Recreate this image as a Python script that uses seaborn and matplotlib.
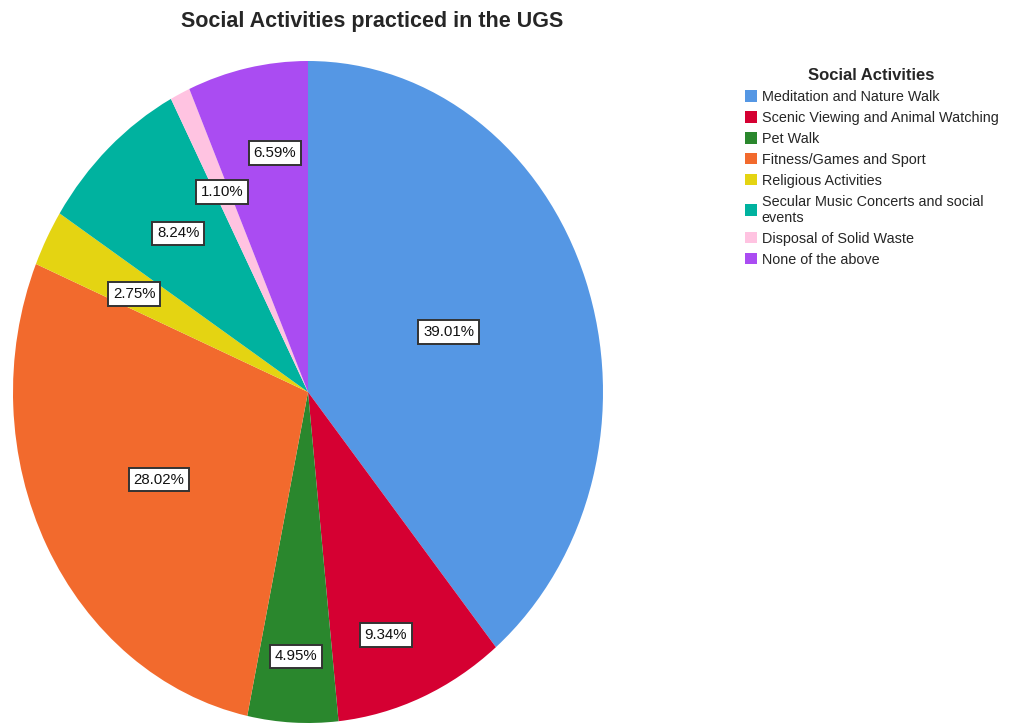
import numpy as np
import matplotlib
matplotlib.use("Agg")
import matplotlib.pyplot as plt
import seaborn as sns

# data
activities = [
    "Meditation and Nature Walk",
    "Scenic Viewing and Animal Watching",
    "Pet Walk",
    "Fitness/Games and Sport",
    "Religious Activities",
    "Secular Music Concerts and social\nevents",
    "Disposal of Solid Waste",
    "None of the above",
]
shares = [39.01, 9.34, 4.95, 28.02, 2.75, 8.24, 1.10, 6.59]

colors = ["#5597E4", "#D50032", "#2A872D", "#F26A2D",
          "#E4D412", "#00B29F", "#FFC3E1", "#AA4CF2"]
# radial distance / angular nudge of each percentage box (layout only)
label_r = [0.51, 0.78, 0.80, 0.57, 0.66, 0.65, 0.67, 0.73]
label_da = [1, -3, 0, 0, 1, 0, 0, -3]

sns.set_style("white")
plt.rcParams["font.family"] = ["Liberation Sans", "DejaVu Sans"]

fig = plt.figure(figsize=(10.16, 7.25), dpi=100)
ax = fig.add_axes([13 / 1016, 2 / 725, 590 / 1016, 662 / 725])

wedges, _ = ax.pie(shares, colors=colors, startangle=90, counterclock=False,
                   radius=1.0, wedgeprops=dict(linewidth=0))
ax.set_aspect("auto")
ax.set_xlim(-1, 1)
ax.set_ylim(-1, 1)
ax.axis("off")

for w, val, r, da in zip(wedges, shares, label_r, label_da):
    ang = np.deg2rad((w.theta1 + w.theta2) / 2 + da)
    ax.text(r * np.cos(ang), r * np.sin(ang), f"{val:.2f}%",
            ha="center", va="center", fontsize=10.8, color="#111111",
            bbox=dict(boxstyle="square,pad=0.32", fc="white",
                      ec="#333333", lw=1.4))

fig.text(372 / 1016, 1 - 22 / 725, "Social Activities practiced in the UGS",
         ha="center", va="center", fontsize=15.5, fontweight="bold")

leg = fig.legend(wedges, activities, title="Social Activities",
                 loc="upper left", bbox_to_anchor=(745 / 1016, 1 - 68 / 725),
                 frameon=False, fontsize=10.4, title_fontsize=12,
                 handlelength=0.85, handleheight=0.85, handletextpad=0.3,
                 labelspacing=0.48, borderaxespad=0, borderpad=0)
leg.get_title().set_fontweight("bold")

fig.savefig("out.png", dpi=100)
